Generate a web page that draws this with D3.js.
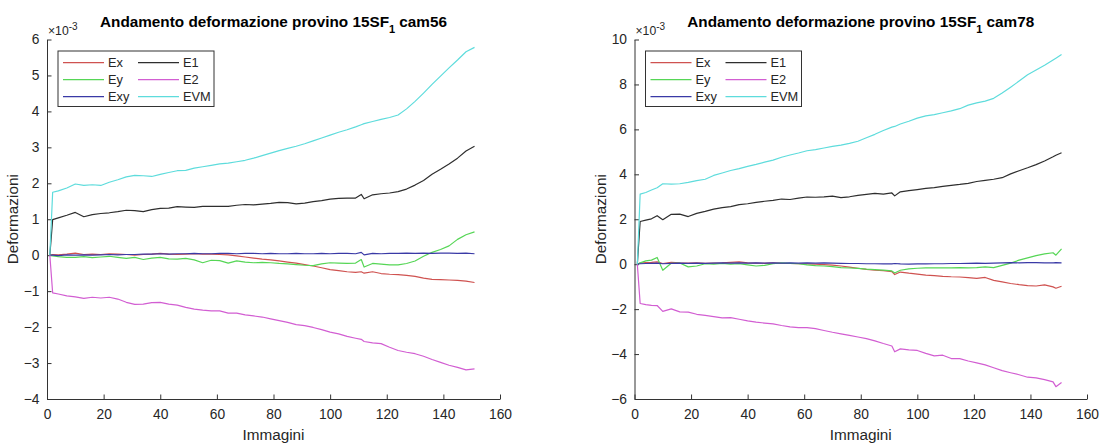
<!DOCTYPE html>
<html>
<head>
<meta charset="utf-8">
<script src="https://cdn.jsdelivr.net/npm/d3@7"></script>
<style>
  html, body { margin: 0; padding: 0; background: #ffffff; }
  svg { display: block; }
  text { font-family: "Liberation Sans", Arial, Helvetica, sans-serif; }
</style>
</head>
<body>
<svg id="fig" width="1103" height="444"></svg>
<script>
// Strain components per image, expressed in units of 1e-3.

// ---- specimen 15SF1, camera 56 ----
const imagesCam56 = [1,2,4,7,10,13,16,19,22,25,28,31,34,37,40,43,46,49,52,55,58,61,64,67,70,73,76,79,82,85,88,91,94,97,100,103,106,109,111,112,115,118,121,124,127,130,133,136,139,142,145,148,151];
const exCam56  = [0,0.02,0.01,0.03,0.06,0.02,0.03,0.02,0.04,0.03,0.02,0.00,0.02,0.03,0.05,0.03,0.02,0.03,0.04,0.03,0.03,0.02,0.01,-0.02,-0.05,-0.08,-0.11,-0.13,-0.16,-0.19,-0.22,-0.26,-0.30,-0.35,-0.40,-0.43,-0.46,-0.48,-0.46,-0.50,-0.46,-0.51,-0.53,-0.54,-0.56,-0.59,-0.64,-0.67,-0.68,-0.69,-0.70,-0.72,-0.76];
const eyCam56  = [0,-0.02,-0.04,-0.06,-0.06,-0.04,-0.07,-0.05,-0.03,-0.06,-0.09,-0.06,-0.12,-0.08,-0.06,-0.10,-0.11,-0.09,-0.13,-0.21,-0.14,-0.15,-0.22,-0.16,-0.19,-0.21,-0.20,-0.21,-0.23,-0.24,-0.26,-0.28,-0.29,-0.24,-0.21,-0.22,-0.23,-0.22,-0.12,-0.33,-0.23,-0.25,-0.27,-0.27,-0.23,-0.16,-0.03,0.08,0.16,0.26,0.44,0.57,0.65];
const exyCam56 = [0,0.00,-0.01,0.01,0.00,0.01,0.00,0.01,0.02,0.01,0.02,0.02,0.03,0.03,0.04,0.03,0.04,0.04,0.05,0.04,0.04,0.05,0.05,0.04,0.05,0.05,0.04,0.05,0.04,0.04,0.05,0.04,0.04,0.05,0.04,0.05,0.05,0.04,0.08,0.01,0.05,0.04,0.05,0.05,0.06,0.05,0.06,0.05,0.06,0.06,0.05,0.06,0.04];
const e1Cam56  = [0,0.99,1.04,1.11,1.19,1.07,1.13,1.16,1.18,1.21,1.25,1.24,1.21,1.27,1.30,1.31,1.35,1.34,1.33,1.36,1.36,1.36,1.36,1.39,1.41,1.40,1.42,1.44,1.47,1.46,1.43,1.45,1.49,1.52,1.56,1.58,1.59,1.59,1.69,1.57,1.68,1.71,1.73,1.77,1.84,1.95,2.08,2.25,2.39,2.54,2.70,2.90,3.03];
const e2Cam56  = [0,-1.05,-1.08,-1.13,-1.16,-1.20,-1.17,-1.19,-1.17,-1.22,-1.31,-1.37,-1.36,-1.32,-1.31,-1.36,-1.39,-1.45,-1.50,-1.53,-1.55,-1.55,-1.61,-1.61,-1.66,-1.69,-1.72,-1.77,-1.82,-1.87,-1.93,-1.96,-2.01,-2.07,-2.14,-2.19,-2.26,-2.31,-2.34,-2.40,-2.44,-2.46,-2.56,-2.65,-2.70,-2.74,-2.81,-2.90,-2.98,-3.06,-3.12,-3.19,-3.16];
const evmCam56 = [0,1.75,1.79,1.87,1.98,1.94,1.96,1.94,2.03,2.10,2.18,2.22,2.21,2.19,2.25,2.30,2.35,2.36,2.42,2.46,2.50,2.54,2.56,2.60,2.64,2.70,2.77,2.84,2.91,2.97,3.03,3.10,3.18,3.26,3.34,3.42,3.49,3.57,3.63,3.66,3.72,3.78,3.83,3.90,4.07,4.28,4.51,4.75,4.98,5.21,5.43,5.66,5.78];

// ---- specimen 15SF1, camera 78 ----
const imagesCam78 = [1,2,4,6,8,10,13,16,19,22,25,28,31,34,37,40,43,46,49,52,55,58,61,64,67,70,73,76,79,82,85,88,91,92,94,97,100,103,106,109,112,115,118,121,124,127,130,133,136,139,142,145,148,149,151];
const exCam78  = [0,0.05,0.07,0.08,0.10,0.03,0.08,0.06,0.05,0.06,0.04,0.05,0.06,0.08,0.10,0.06,0.05,0.04,0.06,0.04,0.03,0.02,0.01,0.00,-0.02,-0.04,-0.08,-0.13,-0.18,-0.23,-0.27,-0.29,-0.33,-0.46,-0.35,-0.40,-0.44,-0.49,-0.51,-0.54,-0.56,-0.57,-0.60,-0.63,-0.59,-0.72,-0.79,-0.86,-0.91,-0.95,-0.97,-0.92,-1.01,-1.07,-0.98];
const eyCam78  = [0,0.06,0.15,0.18,0.30,-0.27,0.04,0.05,-0.12,-0.08,0.02,0.00,0.03,0.00,0.02,-0.03,-0.08,-0.05,0.02,0.06,0.04,0.02,-0.03,-0.06,-0.08,-0.11,-0.15,-0.17,-0.19,-0.22,-0.24,-0.26,-0.30,-0.39,-0.27,-0.21,-0.18,-0.16,-0.16,-0.16,-0.16,-0.15,-0.16,-0.15,-0.12,-0.15,-0.05,0.05,0.18,0.28,0.38,0.46,0.51,0.40,0.68];
const exyCam78 = [0,0.02,0.03,0.04,0.05,0.02,0.04,0.05,0.04,0.05,0.04,0.05,0.06,0.05,0.06,0.05,0.06,0.05,0.06,0.05,0.06,0.05,0.06,0.05,0.06,0.05,0.04,0.03,0.03,0.02,0.02,0.01,0.01,0.03,0.01,0.00,0.01,0.01,0.02,0.02,0.03,0.03,0.04,0.05,0.04,0.05,0.06,0.07,0.06,0.07,0.07,0.06,0.06,0.07,0.06];
const e1Cam78  = [0,1.90,1.96,2.02,2.16,1.98,2.22,2.23,2.12,2.26,2.35,2.45,2.52,2.56,2.65,2.69,2.75,2.80,2.84,2.90,2.88,2.94,2.99,2.98,3.00,3.03,2.96,3.00,3.06,3.11,3.15,3.12,3.17,3.04,3.22,3.27,3.32,3.37,3.41,3.46,3.51,3.55,3.60,3.68,3.73,3.78,3.85,4.02,4.16,4.29,4.43,4.59,4.78,4.85,4.96];
const e2Cam78  = [0,-1.75,-1.80,-1.83,-1.84,-2.10,-1.99,-2.12,-2.13,-2.23,-2.28,-2.33,-2.39,-2.38,-2.45,-2.52,-2.58,-2.62,-2.66,-2.73,-2.79,-2.82,-2.82,-2.87,-2.95,-3.03,-3.10,-3.17,-3.24,-3.31,-3.41,-3.53,-3.64,-3.90,-3.77,-3.81,-3.84,-3.97,-4.08,-4.05,-4.20,-4.20,-4.31,-4.39,-4.48,-4.61,-4.74,-4.83,-4.92,-5.03,-5.06,-5.14,-5.24,-5.45,-5.27];
const evmCam78 = [0,3.12,3.19,3.30,3.40,3.58,3.56,3.58,3.64,3.72,3.78,3.95,4.06,4.17,4.25,4.35,4.44,4.54,4.63,4.76,4.86,4.95,5.05,5.10,5.17,5.24,5.30,5.38,5.47,5.63,5.78,5.95,6.10,6.13,6.24,6.36,6.50,6.60,6.66,6.74,6.82,6.92,7.08,7.18,7.26,7.38,7.62,7.88,8.15,8.43,8.64,8.85,9.09,9.17,9.33];

// ---- axes ----
const xTicks = [0,20,40,60,80,100,120,140,160];
const yTicksCam56 = [-4,-3,-2,-1,0,1,2,3,4,5,6];
const yTicksCam78 = [-6,-4,-2,0,2,4,6,8,10];

// ---- legend ----
const seriesNames  = ["Ex","Ey","Exy","E1","E2","EVM"];
const seriesColors = ["#cf5250","#56d656","#3a3aa6","#2e2e2e","#d25ed2","#5edcdc"];

const svg = d3.select("#fig");
const axisColor = "#333333";
const textColor = "#262626";

function drawPanel(cfg) {
  const x = d3.scaleLinear().domain([0, 160]).range([cfg.left, cfg.right]);
  const y = d3.scaleLinear().domain(cfg.yDomain).range([cfg.bottom, cfg.top]);
  const g = svg.append("g");

  // x axis (ticks point into the plot)
  const gx = g.append("g")
    .attr("transform", `translate(0,${cfg.bottom})`)
    .call(d3.axisBottom(x).tickValues(xTicks).tickSizeInner(-4.5).tickSizeOuter(0).tickPadding(10));
  // y axis
  const gy = g.append("g")
    .attr("transform", `translate(${cfg.left},0)`)
    .call(d3.axisLeft(y).tickValues(cfg.yTicks).tickSizeInner(-4.5).tickSizeOuter(0).tickPadding(7.5));

  [gx, gy].forEach(a => {
    a.select(".domain").attr("stroke", axisColor).attr("stroke-width", 1);
    a.selectAll(".tick line").attr("stroke", axisColor).attr("stroke-width", 1);
    a.selectAll(".tick text").attr("fill", textColor).attr("font-size", 13.8)
      .style("font-family", "'Liberation Sans', Arial, sans-serif");
  });

  // series
  const line = d3.line().x(d => x(d[0])).y(d => y(d[1]));
  cfg.series.forEach((vals, i) => {
    const pts = cfg.images.map((im, k) => [im, vals[k]]);
    g.append("path")
      .attr("d", line(pts))
      .attr("fill", "none")
      .attr("stroke", seriesColors[i])
      .attr("stroke-width", 1.2)
      .attr("stroke-linejoin", "round");
  });

  // exponent label
  const ex = g.append("text")
    .attr("x", cfg.left + 1).attr("y", 35)
    .attr("fill", textColor).attr("font-size", 12.2);
  ex.append("tspan").text("\u00d710");
  ex.append("tspan").attr("dy", -5).attr("font-size", 10).text("-3");

  // title
  const t = g.append("text")
    .attr("x", (cfg.left + cfg.right) / 2).attr("y", 26.5)
    .attr("text-anchor", "middle")
    .attr("font-weight", "bold").attr("font-size", 15.3)
    .attr("fill", "#000");
  t.append("tspan").text("Andamento deformazione provino 15SF");
  t.append("tspan").attr("dy", 6).attr("font-size", 11).text("1");
  t.append("tspan").attr("dy", -6).text(" " + cfg.camera);

  // axis labels
  g.append("text")
    .attr("x", (cfg.left + cfg.right) / 2).attr("y", 440)
    .attr("text-anchor", "middle").attr("font-size", 15.3).attr("fill", textColor)
    .text("Immagini");
  g.append("text")
    .attr("transform", `translate(${cfg.left - 29},${(cfg.top + cfg.bottom) / 2}) rotate(-90)`)
    .attr("text-anchor", "middle").attr("font-size", 15.3).attr("fill", textColor)
    .text("Deformazioni");

  // legend (two columns, filled column-wise)
  const lx = cfg.left + 11, ly = 51, lw = 156, lh = 55.5;
  const lg = g.append("g").attr("transform", `translate(${lx},${ly})`);
  lg.append("rect").attr("x", 0).attr("y", 0).attr("width", lw).attr("height", lh)
    .attr("fill", "#fff").attr("stroke", axisColor).attr("stroke-width", 1);
  seriesNames.forEach((name, i) => {
    const col = Math.floor(i / 3), row = i % 3;
    const ox = 5 + col * 75, oy = 11.7 + row * 17;
    lg.append("line").attr("x1", ox).attr("x2", ox + 41).attr("y1", oy).attr("y2", oy)
      .attr("stroke", seriesColors[i]).attr("stroke-width", 1.2);
    lg.append("text").attr("x", ox + 45).attr("y", oy).attr("dy", "0.36em")
      .attr("font-size", 12.8).attr("fill", textColor).text(name);
  });
}

drawPanel({
  left: 47, right: 500, top: 39.5, bottom: 399,
  yDomain: [-4, 6], yTicks: yTicksCam56, camera: "cam56",
  images: imagesCam56,
  series: [exCam56, eyCam56, exyCam56, e1Cam56, e2Cam56, evmCam56]
});
drawPanel({
  left: 634.5, right: 1087, top: 39.5, bottom: 399,
  yDomain: [-6, 10], yTicks: yTicksCam78, camera: "cam78",
  images: imagesCam78,
  series: [exCam78, eyCam78, exyCam78, e1Cam78, e2Cam78, evmCam78]
});
</script>
</body>
</html>
